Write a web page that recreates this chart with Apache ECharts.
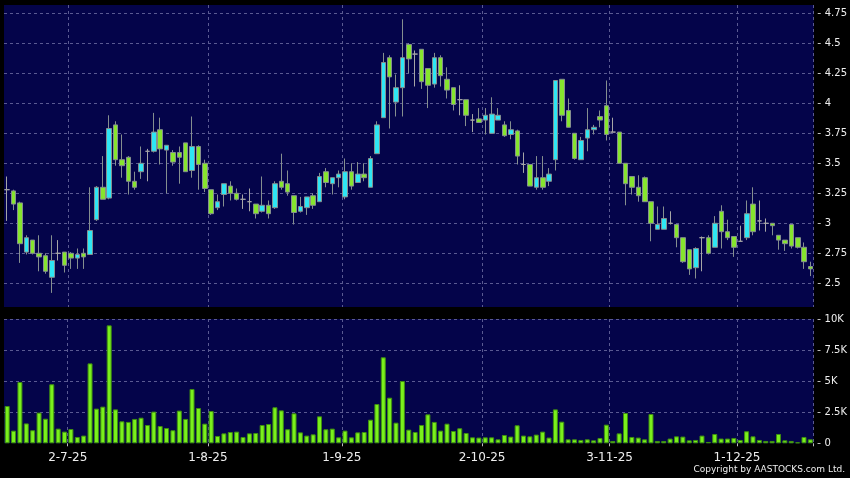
<!DOCTYPE html>
<html><head><meta charset="utf-8">
<script src="https://cdn.jsdelivr.net/npm/echarts@6/dist/echarts.min.js"></script>
<style>html,body{margin:0;padding:0;background:#000;}#c{width:850px;height:478px;}</style>
</head><body><div id="c"></div>
<script>
const categories = [
'17-6-25','18-6-25','19-6-25','20-6-25','23-6-25','24-6-25','25-6-25','26-6-25','27-6-25','30-6-25',
'2-7-25','3-7-25','4-7-25','7-7-25','8-7-25','9-7-25','10-7-25','11-7-25','14-7-25','15-7-25','16-7-25','17-7-25','18-7-25','21-7-25','22-7-25','23-7-25','24-7-25','25-7-25','28-7-25','29-7-25','30-7-25','31-7-25',
'1-8-25','4-8-25','5-8-25','6-8-25','7-8-25','8-8-25','11-8-25','12-8-25','13-8-25','14-8-25','15-8-25','18-8-25','19-8-25','20-8-25','21-8-25','22-8-25','25-8-25','26-8-25','27-8-25','28-8-25','29-8-25',
'1-9-25','2-9-25','3-9-25','4-9-25','5-9-25','8-9-25','9-9-25','10-9-25','11-9-25','12-9-25','15-9-25','16-9-25','17-9-25','18-9-25','19-9-25','22-9-25','23-9-25','24-9-25','25-9-25','26-9-25','29-9-25','30-9-25',
'2-10-25','3-10-25','6-10-25','8-10-25','9-10-25','10-10-25','13-10-25','14-10-25','15-10-25','16-10-25','17-10-25','20-10-25','21-10-25','22-10-25','23-10-25','24-10-25','27-10-25','28-10-25','30-10-25','31-10-25',
'3-11-25','4-11-25','5-11-25','6-11-25','7-11-25','10-11-25','11-11-25','12-11-25','13-11-25','14-11-25','17-11-25','18-11-25','19-11-25','20-11-25','21-11-25','24-11-25','25-11-25','26-11-25','27-11-25','28-11-25',
'1-12-25','2-12-25','3-12-25','4-12-25','5-12-25','8-12-25','9-12-25','10-12-25','11-12-25','12-12-25','15-12-25','16-12-25'];

const openP = [3.28,3.27,3.17,2.76,2.86,2.75,2.73,2.55,2.75,2.76,
2.75,2.71,2.75,2.74,3.03,3.30,3.21,3.82,3.53,3.55,
3.35,3.43,3.60,3.60,3.78,3.61,3.59,3.59,3.67,3.44,
3.64,3.50,3.28,3.13,3.24,3.31,3.25,3.20,3.18,3.16,
3.10,3.15,3.13,3.35,3.33,3.23,3.10,3.13,3.23,3.18,
3.43,3.33,3.38,3.22,3.43,3.34,3.41,3.30,3.58,3.88,
4.38,4.01,4.13,4.49,4.41,4.45,4.29,4.16,4.38,4.20,
4.13,4.03,4.03,3.86,3.87,3.86,3.75,3.86,3.82,3.74,
3.77,3.49,3.49,3.30,3.38,3.35,3.53,4.20,3.94,3.75,
3.53,3.71,3.78,3.89,3.98,3.76,3.76,3.50,3.39,3.30,
3.38,3.18,2.95,2.95,3.00,2.99,2.88,2.78,2.63,2.88,
2.88,2.80,3.10,2.93,2.89,2.85,2.88,3.16,3.02,3.00,
3.00,2.90,2.86,2.99,2.88,2.80,2.64];
const closeP = [3.28,3.16,2.83,2.88,2.75,2.72,2.60,2.69,2.75,2.65,
2.71,2.74,2.72,2.94,3.30,3.20,3.79,3.53,3.48,3.35,
3.30,3.50,3.60,3.76,3.62,3.65,3.51,3.55,3.43,3.64,
3.49,3.29,3.08,3.18,3.33,3.25,3.20,3.20,3.18,3.08,
3.15,3.08,3.33,3.30,3.26,3.09,3.14,3.22,3.15,3.39,
3.34,3.38,3.41,3.43,3.31,3.41,3.38,3.54,3.82,4.34,
4.22,4.13,4.38,4.37,4.41,4.18,4.15,4.38,4.23,4.11,
3.99,4.03,3.90,3.86,3.84,3.90,3.91,3.90,3.73,3.78,
3.56,3.49,3.31,3.38,3.30,3.41,4.19,3.90,3.80,3.54,
3.69,3.78,3.80,3.86,3.74,3.76,3.50,3.33,3.30,3.23,
3.18,3.00,2.99,3.04,3.00,2.88,2.68,2.62,2.79,2.88,
2.75,3.00,2.93,2.88,2.80,2.85,3.08,2.93,3.02,3.00,
2.98,2.86,2.83,2.81,2.80,2.68,2.62];
const lowP = [3.02,3.11,2.67,2.74,2.74,2.60,2.58,2.42,2.69,2.59,
2.62,2.62,2.62,2.74,3.02,3.20,3.20,3.48,3.38,3.24,
3.28,3.37,3.35,3.59,3.49,3.25,3.48,3.33,3.43,3.38,
3.28,3.26,3.07,3.11,3.14,3.19,3.19,3.12,3.10,3.04,
3.09,3.04,3.12,3.28,3.23,2.99,3.09,3.07,3.12,3.18,
3.30,3.24,3.30,3.20,3.28,3.34,3.35,3.30,3.58,3.88,
3.79,3.89,3.89,4.25,4.14,4.12,3.96,4.13,4.14,4.04,
3.94,3.90,3.81,3.76,3.84,3.74,3.75,3.86,3.72,3.70,
3.49,3.42,3.31,3.28,3.28,3.31,3.44,3.85,3.80,3.53,
3.53,3.60,3.74,3.80,3.69,3.76,3.50,3.15,3.24,3.18,
3.18,2.85,2.95,2.95,2.99,2.80,2.67,2.57,2.54,2.60,
2.74,2.80,2.79,2.86,2.72,2.85,2.86,2.90,2.94,2.93,
2.90,2.78,2.77,2.79,2.79,2.62,2.56];
const highP = [3.39,3.28,3.18,2.90,2.86,2.90,2.75,2.90,2.86,2.76,
2.76,2.79,2.79,3.30,3.31,3.56,3.90,3.85,3.74,3.56,
3.43,3.64,3.62,3.92,3.88,3.65,3.61,3.64,3.67,3.89,
3.65,3.53,3.28,3.24,3.33,3.35,3.29,3.24,3.29,3.16,
3.39,3.19,3.35,3.58,3.44,3.23,3.22,3.22,3.25,3.42,
3.46,3.38,3.44,3.54,3.50,3.51,3.50,3.56,3.85,4.42,
4.40,4.24,4.70,4.50,4.44,4.45,4.29,4.42,4.40,4.30,
4.13,4.15,4.03,3.91,3.96,3.96,4.05,3.96,3.85,3.85,
3.78,3.59,3.49,3.56,3.56,3.46,4.19,4.20,4.04,3.75,
3.72,3.96,3.82,3.94,4.19,3.88,3.76,3.50,3.39,3.40,
3.39,3.18,3.14,3.14,3.10,2.99,2.88,2.78,2.80,2.89,
2.90,3.06,3.15,3.03,2.89,2.98,3.19,3.30,3.19,3.04,
3.00,2.90,2.86,2.99,2.88,2.84,2.68];
const volume = [3000,1020,4930,1600,1050,2470,1980,4750,1180,940,
1150,510,620,6430,2790,2950,9490,2730,1770,1720,
1960,2060,1470,2550,1390,1230,1050,2630,1960,4370,
2840,1580,2600,590,800,910,940,510,800,830,
1470,1550,2900,2650,1130,2410,880,620,720,2170,
1130,1180,480,1020,480,880,910,1900,3160,6920,
3670,1660,5010,1100,910,1470,2330,1720,1020,1580,
990,1210,830,480,460,480,480,320,670,540,
1450,620,560,700,940,460,2730,1740,320,320,
270,320,240,430,1500,190,800,2440,510,460,
320,2360,190,190,380,560,540,240,270,620,
110,750,380,380,430,270,970,560,270,190,
190,750,240,190,80,510,320];
const monthTicks = ['2-7-25','1-8-25','1-9-25','2-10-25','3-11-25','1-12-25'];
const priceTicks = [2.5,2.75,3,3.25,3.5,3.75,4,4.25,4.5,4.75];
const volumeTicks = [0,2500,5000,7500,10000];

const FONT = 'DejaVu Sans';
const GRIDC = '#5a5a92';
const isMonth = (i) => monthTicks.indexOf(categories[i]) >= 0;
const candleData = categories.map((_, i) => [openP[i], closeP[i], lowP[i], highP[i]]);

const chart = echarts.init(document.getElementById('c'), null, {renderer: 'canvas'});
chart.setOption({
  animation: false,
  backgroundColor: '#000000',
  grid: [
    {left: 4, right: 36, top: 5, height: 302, show: true, backgroundColor: '#04044a', borderWidth: 0},
    {left: 4, right: 36, top: 319, height: 124.3, show: true, backgroundColor: '#04044a', borderWidth: 0}
  ],
  xAxis: [
    {type: 'category', gridIndex: 0, data: categories, boundaryGap: true,
     axisLine: {show: false}, axisTick: {show: false}, axisLabel: {show: false},
     splitLine: {show: true, interval: (i) => isMonth(i), lineStyle: {color: GRIDC, type: [3, 3], width: 1}}},
    {type: 'category', gridIndex: 1, data: categories, boundaryGap: true, offset: 3,
     axisLine: {show: false},
     axisTick: {show: true, interval: (i) => isMonth(i), length: 3, lineStyle: {color: '#bbbbbb'}},
     axisLabel: {show: true, interval: (i) => isMonth(i), color: '#eeeeee', fontFamily: FONT, fontSize: 12, margin: 6, padding: [0, 6.4, 0, 0]},
     splitLine: {show: true, interval: (i) => isMonth(i), lineStyle: {color: GRIDC, type: [3, 3], width: 1}}}
  ],
  yAxis: [
    {type: 'value', gridIndex: 0, position: 'right', min: 2.3025, max: 4.819,
     minInterval: 0.25, maxInterval: 0.25, splitNumber: 10, offset: 4, scale: true,
     axisLine: {show: false},
     axisTick: {show: true, length: 3, customValues: priceTicks, lineStyle: {color: '#bbbbbb'}},
     axisLabel: {color: '#eeeeee', fontFamily: FONT, fontSize: 10, margin: 7, customValues: priceTicks},
     splitLine: {show: true, lineStyle: {color: GRIDC, type: [3, 3], width: 1}}},
    {type: 'value', gridIndex: 1, position: 'right', min: 0, max: 10000, interval: 2500, offset: 4,
     axisLine: {show: false},
     axisTick: {show: true, length: 3, lineStyle: {color: '#bbbbbb'}},
     axisLabel: {color: '#eeeeee', fontFamily: FONT, fontSize: 10, margin: 7,
       formatter: (v) => v === 0 ? '0' : (v / 1000) + 'K'},
     splitLine: {show: true, showMinLine: false, lineStyle: {color: GRIDC, type: [3, 3], width: 1}}}
  ],
  series: [
    {type: 'candlestick', xAxisIndex: 0, yAxisIndex: 0, data: candleData, barWidth: 5,
     itemStyle: {color: '#2ee6f4', color0: '#86e52e', borderColor: '#858f8f', borderColor0: '#858f8f', borderColorDoji: '#a6a6a6', borderWidth: 1}},
    {type: 'bar', xAxisIndex: 1, yAxisIndex: 1, data: volume, barWidth: 5,
     itemStyle: {color: '#7af01c', borderColor: '#3f8f10', borderWidth: 1}}
  ],
  graphic: [
    {type: 'text', right: 5, top: 465, style: {text: 'Copyright by AASTOCKS.com Ltd.', fill: '#eeeeee', font: '9px "DejaVu Sans"'}}
  ]
});
</script></body></html>
